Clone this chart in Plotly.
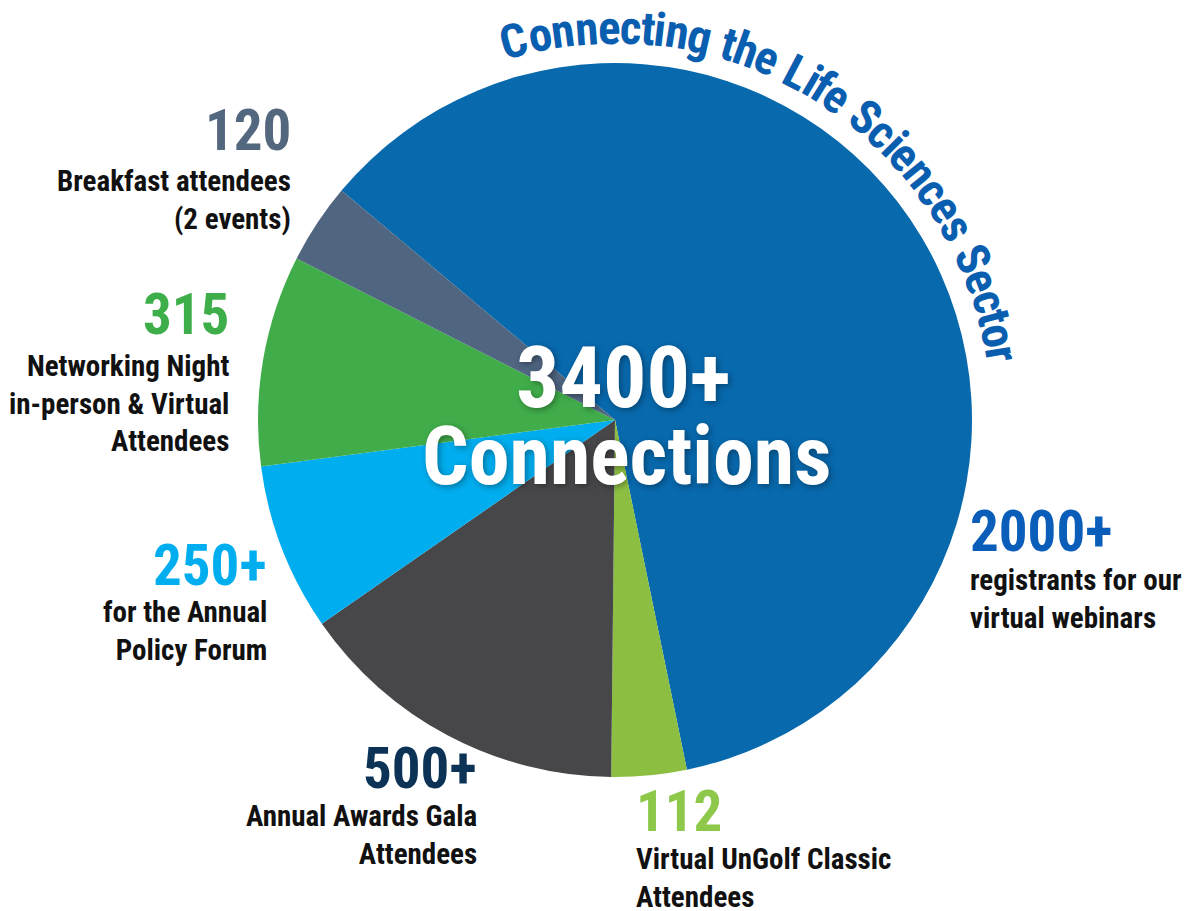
import math
import plotly.graph_objects as go

# ---------------- data ----------------
categories = ["Virtual webinars", "Virtual UnGolf Classic", "Annual Awards Gala",
              "Annual Policy Forum", "Networking Night", "Breakfast"]
values = [2000, 112, 500, 250, 315, 120]
slice_colors = ["#0869ad", "#8cbf41", "#47474a", "#00adee", "#40ad4a", "#4f6580"]
number_labels = ["2000+", "112", "500+", "250+", "315", "120"]
number_colors = ["#0a5db8", "#8dc84b", "#0c3256", "#00aeef", "#3dae4a", "#53677f"]
descriptions = [
    "registrants for our<br>virtual webinars",
    "Virtual UnGolf Classic<br>Attendees",
    "Annual Awards Gala<br>Attendees",
    "for the Annual<br>Policy Forum",
    "Networking Night<br>in-person & Virtual<br>Attendees",
    "Breakfast attendees<br>(2 events)",
]
center_total = "3400+"
center_word = "Connections"
arc_title = "Connecting the Life Sciences Sector"

W, H = 1186, 911
FONT = "Roboto Condensed, Open Sans Condensed, DejaVu Sans Condensed, sans-serif"

def px(x):
    return x / W

def py(y):
    return 1 - y / H

cx, cy, R = 615, 420, 357

fig = go.Figure(go.Pie(
    labels=categories, values=values, sort=False, direction="clockwise",
    rotation=-50, textinfo="none", hoverinfo="label+value",
    marker=dict(colors=slice_colors, line=dict(width=0)),
    domain=dict(x=[px(cx - R), px(cx + R)], y=[py(cy + R), py(cy - R)]),
    showlegend=False,
))

ann = []
# label block layout: (anchor x, number center y, description top y, side)
layout_pos = [
    (968, 531, 561, "left"),
    (634, 811, 840, "left"),
    (479, 768, 797, "right"),
    (269, 565, 593, "right"),
    (231, 315, 347, "right"),
    (293, 131, 162, "right"),
]
for num, col, desc, (ax, ny, dy, side) in zip(number_labels, number_colors, descriptions, layout_pos):
    xa = "left" if side == "left" else "right"
    ann.append(dict(x=px(ax), y=py(ny), xref="paper", yref="paper", text=f"<b>{num}</b>",
                    showarrow=False, xanchor=xa, yanchor="middle",
                    font=dict(family=FONT, size=57, color=col)))
    ann.append(dict(x=px(ax), y=py(dy), xref="paper", yref="paper", text=f"<b>{desc}</b>",
                    showarrow=False, xanchor=xa, yanchor="top", align=side,
                    font=dict(family=FONT, size=29, color="#111111")))

# center text
shadow = "2px 2px 6px rgba(0,0,0,0.35)"
ann.append(dict(x=px(623), y=py(377), xref="paper", yref="paper", text=f"<b>{center_total}</b>",
                showarrow=False, xanchor="center", yanchor="middle",
                font=dict(family=FONT, size=86, color="white", shadow=shadow)))
ann.append(dict(x=px(626), y=py(456), xref="paper", yref="paper", text=f"<b>{center_word}</b>",
                showarrow=False, xanchor="center", yanchor="middle",
                font=dict(family=FONT, size=82, color="white", shadow=shadow)))

# curved title along the circle
widths = {"C": 722, "o": 611, "n": 611, "e": 556, "c": 556, "t": 333, "i": 278, "g": 611,
          " ": 278, "h": 611, "L": 611, "f": 333, "S": 667, "s": 556, "r": 389}
adv = [widths.get(ch, 556) for ch in arc_title]
centers = []
acc = 0
for w in adv:
    centers.append(acc + w / 2)
    acc += w
a0, a1 = -14.9, 80.4
r_text = 393
span = centers[-1] - centers[0]
for ch, c in zip(arc_title, centers):
    if ch == " ":
        continue
    ang = a0 + (c - centers[0]) / span * (a1 - a0)
    t = math.radians(ang)
    x = cx + r_text * math.sin(t)
    y = cy - r_text * math.cos(t)
    ann.append(dict(x=px(x), y=py(y), xref="paper", yref="paper", text=f"<b>{ch}</b>",
                    showarrow=False, xanchor="center", yanchor="middle", textangle=ang,
                    font=dict(family=FONT, size=47, color="#0a5eb0")))

fig.update_layout(
    width=W, height=H, autosize=False,
    margin=dict(l=0, r=0, t=0, b=0),
    paper_bgcolor="white", plot_bgcolor="white",
    annotations=ann,
)
fig.write_html("out.html", post_script="document.body.style.margin='0';",
               config={"displayModeBar": False})
